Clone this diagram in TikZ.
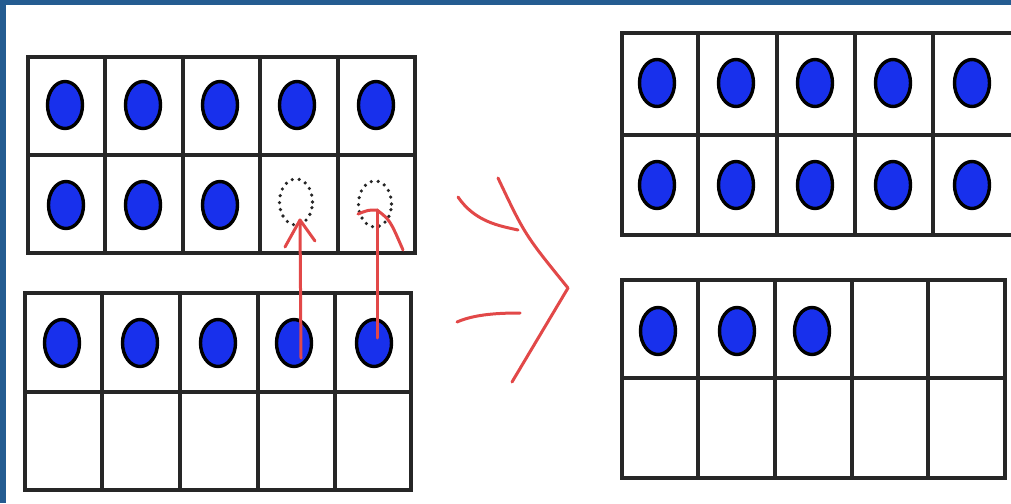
\documentclass[tikz,border=0pt]{standalone}
\usetikzlibrary{calc,shapes.geometric}
\definecolor{frameblue}{RGB}{36,92,145}
\definecolor{dotblue}{RGB}{24,48,236}
\definecolor{gridgray}{RGB}{38,38,38}
\definecolor{penred}{RGB}{226,72,72}
\begin{document}
\begin{tikzpicture}[x=1pt,y=-1pt,
  gridline/.style={draw=gridgray,line width=3.2pt},
  counter/.style={ellipse,draw=black,fill=dotblue,line width=3.4pt,minimum width=35pt,minimum height=47pt,inner sep=0pt},
  ghost/.style={ellipse,draw=black!85,line width=3.6pt,line cap=round,dash pattern=on 0pt off 7pt,minimum width=33pt,minimum height=46pt,inner sep=0pt},
  pen/.style={draw=penred,line width=3pt,line cap=round,line join=round}]
\useasboundingbox (0,0) rectangle (1011,503);
\fill[white] (0,0) rectangle (1011,503);
\fill[frameblue] (0,0) rectangle (1011,5);
\fill[frameblue] (0,0) rectangle (6,503);
\begin{scope}
\clip (6,5) rectangle (1011,503);
% left top frame
\draw[gridline] (28,57) rectangle (415,253);
\draw[gridline] (28,155) -- (415,155);
\foreach \x in {105,183,260,338} \draw[gridline] (\x,57) -- (\x,253);
% left bottom frame
\draw[gridline] (25,293) rectangle (411,490);
\draw[gridline,line width=4pt] (25,392) -- (411,392);
\foreach \x in {102,180,258,335} \draw[gridline] (\x,293) -- (\x,490);
% right top frame
\draw[gridline] (622,33) rectangle (1025,235);
\draw[gridline] (622,135) -- (1025,135);
\foreach \x in {698,777,855,933} \draw[gridline] (\x,33) -- (\x,235);
% right bottom frame
\draw[gridline] (622,280) rectangle (1005,478);
\draw[gridline,line width=4pt] (622,378) -- (1005,378);
\foreach \x in {698,775,852,928} \draw[gridline] (\x,280) -- (\x,478);
\end{scope}
% counters left top
\foreach \x [count=\i] in {65,143,220,297,376} \node[counter] (lt\i) at (\x,105) {};
\foreach \x [count=\i] in {66,143,220} \node[counter] (lm\i) at (\x,205) {};
\node[ghost] (g1) at (296,202) {};
\node[ghost] (g2) at (375,204) {};
% counters left bottom
\foreach \x [count=\i] in {62,140,218,294,374} \node[counter] (lb\i) at (\x,343) {};
% counters right top
\foreach \x [count=\i] in {657,736,815,893,972} \node[counter] (rt\i) at (\x,83) {};
\foreach \x [count=\i] in {657,736,815,893,972} \node[counter] (rm\i) at (\x,185) {};
% counters right bottom
\foreach \x [count=\i] in {658,737,812} \node[counter] (rb\i) at (\x,331) {};
% hand drawn arrows
\coordinate (a1tip) at (300,220);
\coordinate (a2tip) at (377,210);
\draw[pen] ($(lb4.center)+(7,15)$) -- (a1tip);
\draw[pen] (285,247) -- (a1tip) -- (315,241);
\draw[pen] ($(lb5.center)+(3,-5)$) -- (a2tip);
\draw[pen] (358,214) .. controls (368,210) .. (a2tip) .. controls (390,220) .. (403,250);
% big red arrow
\coordinate (apex) at (568,288);
\draw[pen] (498,178) .. controls (525,235) .. (apex) -- (512,382);
\draw[pen] (458,197) .. controls (475,222) and (500,226) .. (518,230);
\draw[pen] (457,322) .. controls (475,314) and (500,313) .. (520,313);
\end{tikzpicture}
\end{document}
